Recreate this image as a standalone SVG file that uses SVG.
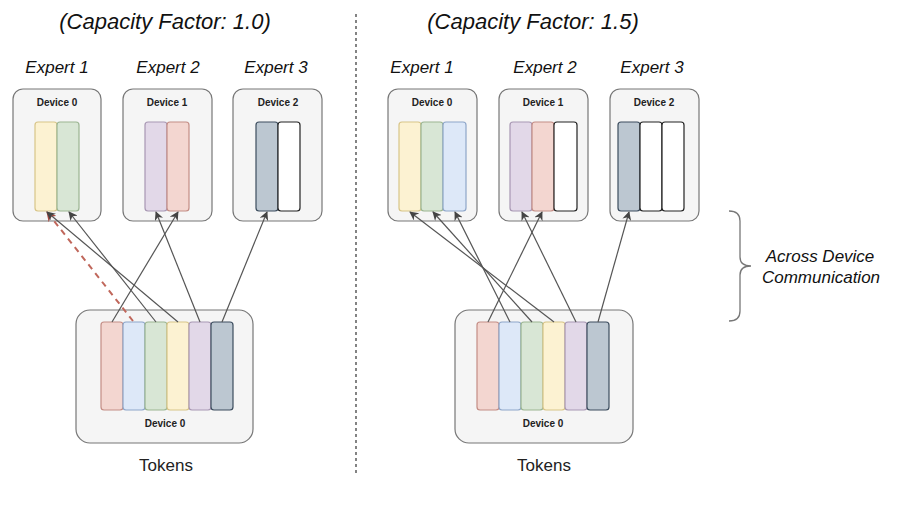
<svg xmlns="http://www.w3.org/2000/svg" width="904" height="505" viewBox="0 0 904 505">
<defs>
<style>
text{font-family:"Liberation Sans",Arial,sans-serif;fill:#111}
.title{font-size:22px;font-style:italic;text-anchor:middle}
.exp{font-size:17px;font-style:italic;text-anchor:middle}
.dev{font-size:10px;font-weight:bold;text-anchor:middle;fill:#222}
.tok{font-size:17px;text-anchor:middle;fill:#222}
.box{fill:#f5f5f5;stroke:#777;stroke-width:1.2}
.bar{stroke-width:1.2}
.r{fill:#f3d6d0;stroke:#c48d85}
.b{fill:#dde8f8;stroke:#8ea6c9}
.g{fill:#d8e6d5;stroke:#9bb592}
.y{fill:#fcf2d2;stroke:#d8c588}
.p{fill:#e2d8e8;stroke:#a897b3}
.d{fill:#bcc7d1;stroke:#3c4d5e}
.w{fill:#ffffff;stroke:#222}
.ln{stroke:#555;stroke-width:1.2;fill:none;marker-end:url(#ah)}
.drop{stroke:#c0675b;stroke-width:2;stroke-dasharray:6 5;fill:none;marker-end:url(#ahr)}
</style>
<marker id="ah" viewBox="0 0 10 10" refX="9" refY="5" markerWidth="9" markerHeight="9" markerUnits="userSpaceOnUse" orient="auto">
<path d="M0,0 L10,5 L0,10 L3,5 Z" fill="#444"/>
</marker>
<marker id="ahr" viewBox="0 0 10 10" refX="9" refY="5" markerWidth="10" markerHeight="10" markerUnits="userSpaceOnUse" orient="auto">
<path d="M0,0 L10,5 L0,10 L3,5 Z" fill="#a8463c"/>
</marker>
</defs>
<rect width="904" height="505" fill="#ffffff"/>

<text class="title" x="165" y="29">(Capacity Factor: 1.0)</text>
<text class="title" x="533" y="29">(Capacity Factor: 1.5)</text>

<line x1="356" y1="14" x2="356" y2="476" stroke="#333" stroke-width="1.2" stroke-dasharray="3 3"/>

<text class="exp" x="57" y="73">Expert 1</text>
<text class="exp" x="168" y="73">Expert 2</text>
<text class="exp" x="276" y="73">Expert 3</text>
<text class="exp" x="422" y="73">Expert 1</text>
<text class="exp" x="545" y="73">Expert 2</text>
<text class="exp" x="652" y="73">Expert 3</text>

<g id="L-dev0">
<rect class="box" x="13" y="89" width="88" height="132" rx="10"/>
<text class="dev" x="57" y="106">Device 0</text>
<rect class="bar y" x="35" y="122" width="22" height="89" rx="3"/>
<rect class="bar g" x="57" y="122" width="22" height="89" rx="3"/>
</g>
<g id="L-dev1">
<rect class="box" x="123" y="89" width="89" height="132" rx="10"/>
<text class="dev" x="167" y="106">Device 1</text>
<rect class="bar p" x="145" y="122" width="22" height="89" rx="3"/>
<rect class="bar r" x="167" y="122" width="22" height="89" rx="3"/>
</g>
<g id="L-dev2">
<rect class="box" x="233" y="89" width="89" height="132" rx="10"/>
<text class="dev" x="278" y="106">Device 2</text>
<rect class="bar d" x="256" y="122" width="22" height="89" rx="3"/>
<rect class="bar w" x="278" y="122" width="22" height="89" rx="3"/>
</g>
<g id="L-tokens">
<rect class="box" x="76" y="310" width="177" height="133" rx="14"/>
<rect class="bar r" x="101" y="322" width="22" height="88" rx="3"/>
<rect class="bar b" x="123" y="322" width="22" height="88" rx="3"/>
<rect class="bar g" x="145" y="322" width="22" height="88" rx="3"/>
<rect class="bar y" x="167" y="322" width="22" height="88" rx="3"/>
<rect class="bar p" x="189" y="322" width="22" height="88" rx="3"/>
<rect class="bar d" x="211" y="322" width="22" height="88" rx="3"/>
<text class="dev" x="165" y="427">Device 0</text>
</g>
<text class="tok" x="166" y="471">Tokens</text>

<g id="R-dev0">
<rect class="box" x="388" y="89" width="89" height="132" rx="10"/>
<text class="dev" x="432" y="106">Device 0</text>
<rect class="bar y" x="399" y="122" width="22" height="89" rx="3"/>
<rect class="bar g" x="421" y="122" width="22" height="89" rx="3"/>
<rect class="bar b" x="443" y="122" width="23" height="89" rx="3"/>
</g>
<g id="R-dev1">
<rect class="box" x="499" y="89" width="89" height="132" rx="10"/>
<text class="dev" x="543" y="106">Device 1</text>
<rect class="bar p" x="510" y="122" width="22" height="89" rx="3"/>
<rect class="bar r" x="532" y="122" width="22" height="89" rx="3"/>
<rect class="bar w" x="554" y="122" width="23" height="89" rx="3"/>
</g>
<g id="R-dev2">
<rect class="box" x="610" y="89" width="89" height="132" rx="10"/>
<text class="dev" x="654" y="106">Device 2</text>
<rect class="bar d" x="618" y="122" width="22" height="89" rx="3"/>
<rect class="bar w" x="640" y="122" width="22" height="89" rx="3"/>
<rect class="bar w" x="662" y="122" width="22" height="89" rx="3"/>
</g>
<g id="R-tokens">
<rect class="box" x="455" y="310" width="178" height="133" rx="14"/>
<rect class="bar r" x="477" y="322" width="22" height="88" rx="3"/>
<rect class="bar b" x="499" y="322" width="22" height="88" rx="3"/>
<rect class="bar g" x="521" y="322" width="22" height="88" rx="3"/>
<rect class="bar y" x="543" y="322" width="22" height="88" rx="3"/>
<rect class="bar p" x="565" y="322" width="22" height="88" rx="3"/>
<rect class="bar d" x="587" y="322" width="22" height="88" rx="3"/>
<text class="dev" x="543" y="427">Device 0</text>
</g>
<text class="tok" x="544" y="471">Tokens</text>

<g id="connectors">
<line class="drop" x1="133" y1="321" x2="47" y2="212"/>
<line class="ln" x1="112" y1="322" x2="178" y2="212"/>
<line class="ln" x1="156" y1="322" x2="69" y2="212"/>
<line class="ln" x1="178" y1="322" x2="47" y2="212"/>
<line class="ln" x1="200" y1="322" x2="156" y2="212"/>
<line class="ln" x1="222" y1="322" x2="267" y2="212"/>

<line class="ln" x1="488" y1="322" x2="542" y2="212"/>
<line class="ln" x1="510" y1="322" x2="455" y2="212"/>
<line class="ln" x1="532" y1="322" x2="433" y2="212"/>
<line class="ln" x1="554" y1="322" x2="410" y2="212"/>
<line class="ln" x1="576" y1="322" x2="522" y2="212"/>
<line class="ln" x1="598" y1="322" x2="629" y2="212"/>
</g>

<g id="brace">
<path d="M729,211 Q740,211 740,221 L740,257 Q740,266 751,266 Q740,266 740,275 L740,311 Q740,321 729,321" fill="none" stroke="#777" stroke-width="1.3"/>
<text class="exp" x="820" y="262">Across Device</text>
<text class="exp" x="821" y="283">Communication</text>
</g>
</svg>
